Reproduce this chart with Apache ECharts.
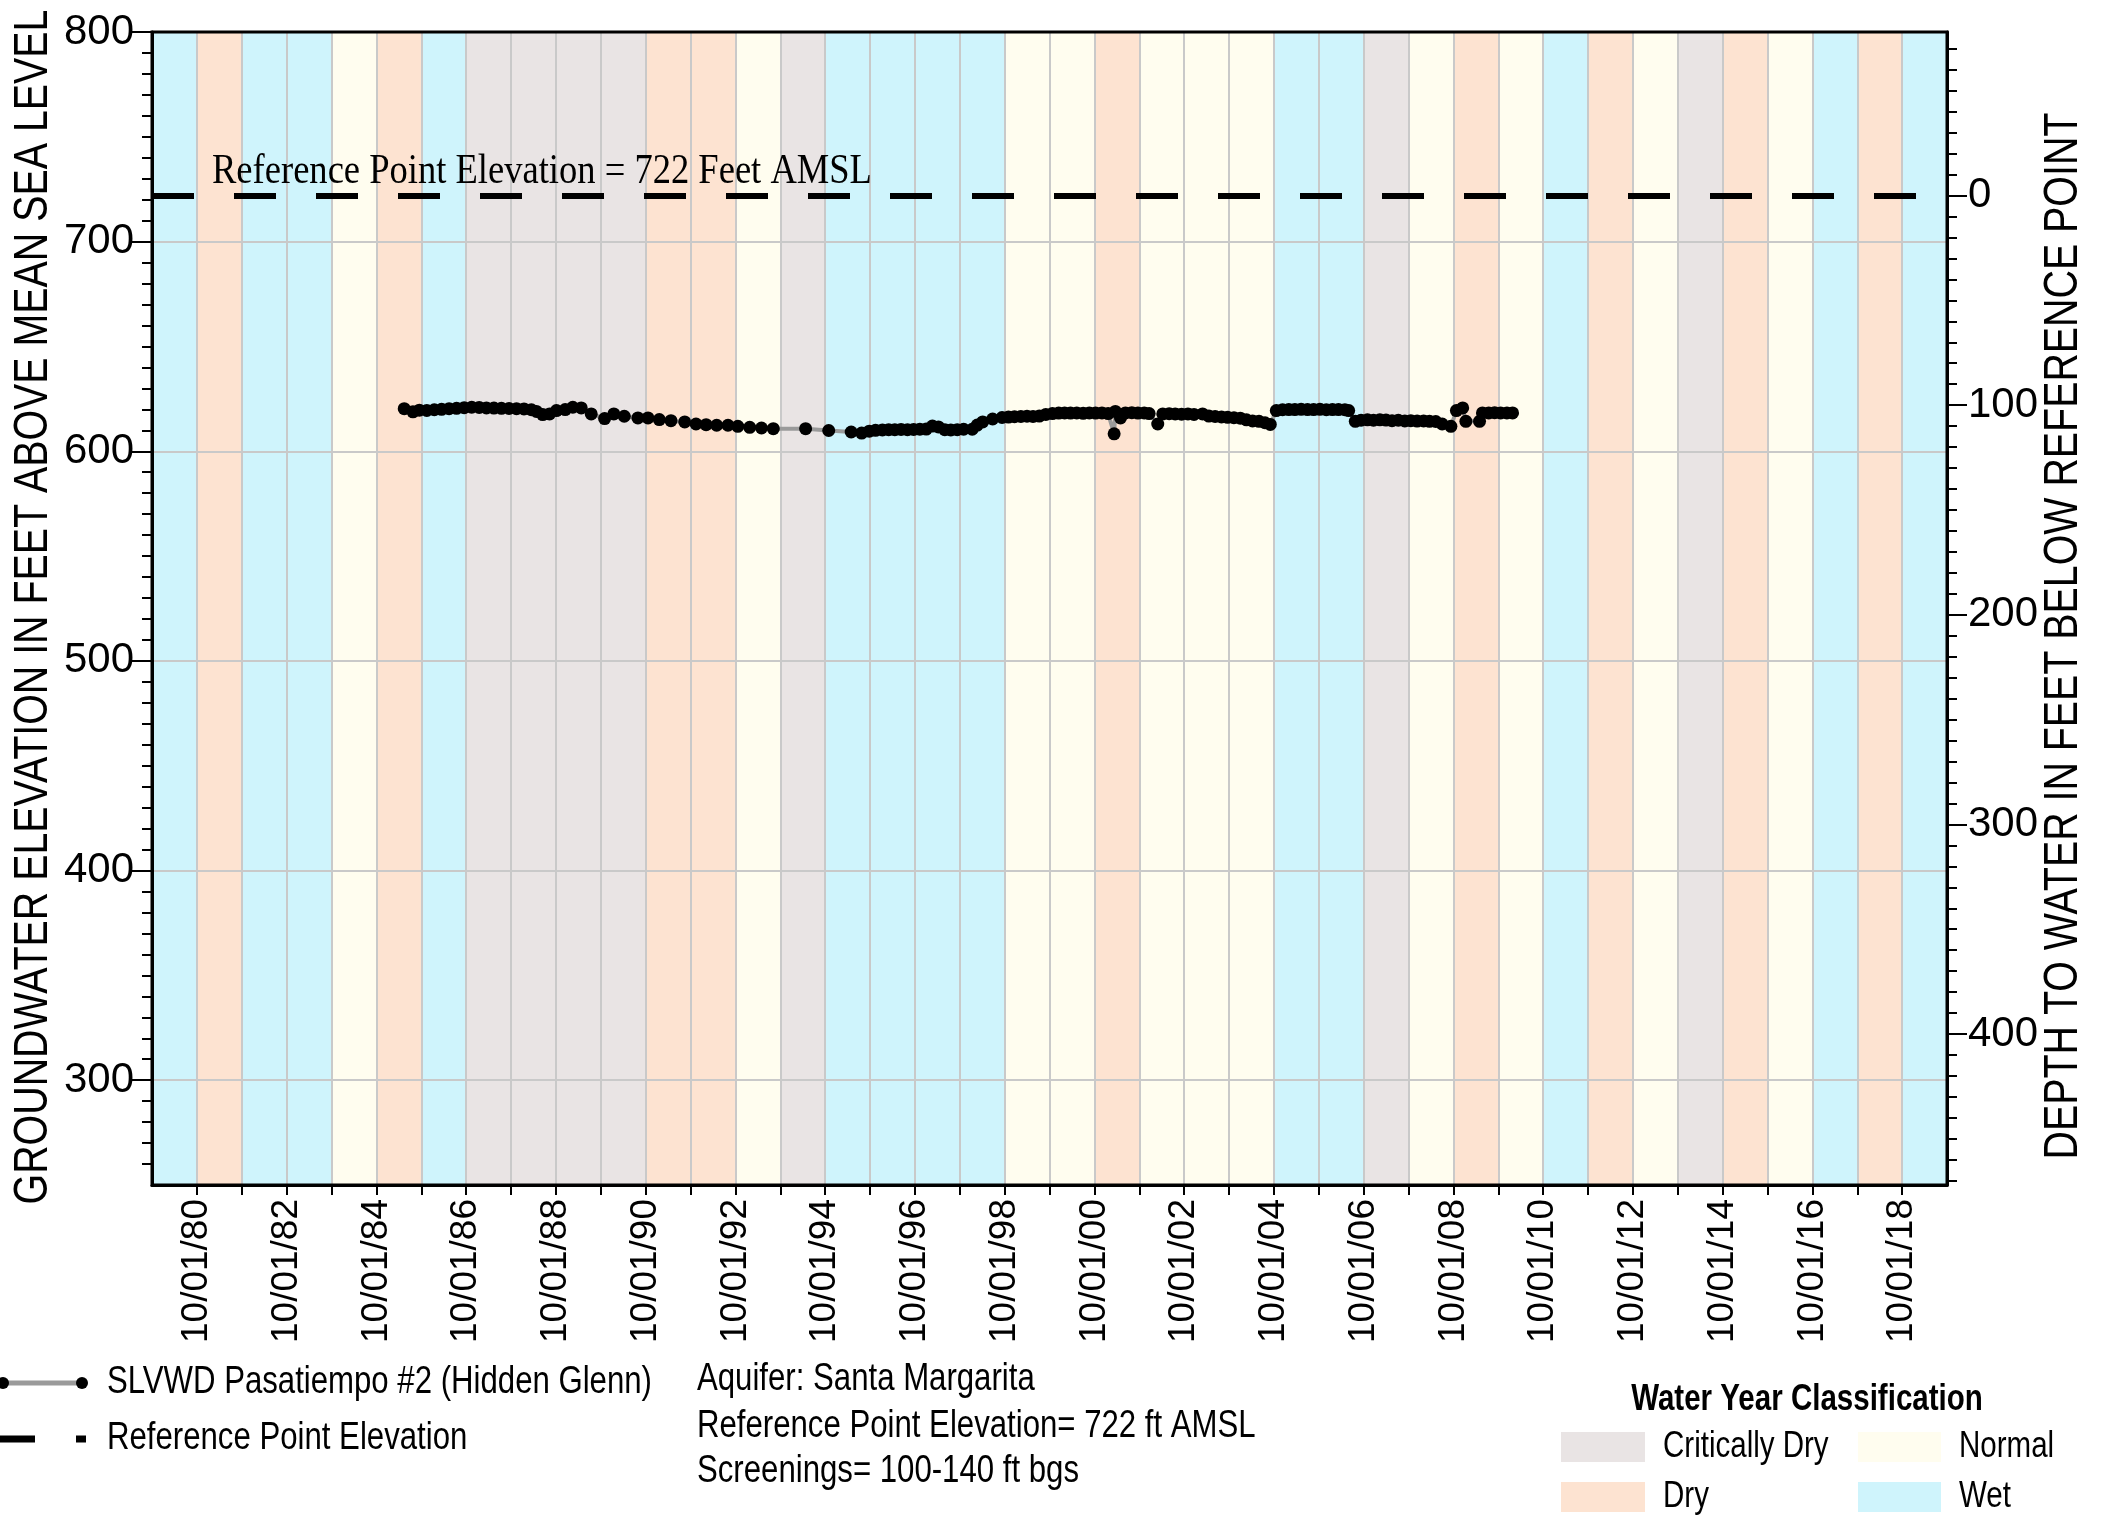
<!DOCTYPE html>
<html><head><meta charset="utf-8">
<script src="https://cdn.jsdelivr.net/npm/echarts@6/dist/echarts.min.js"></script>
<style>html,body{margin:0;padding:0;background:#fff}#c{width:2105px;height:1518px}</style>
</head><body><div id="c"></div>
<script>
// ---------------- data ----------------
const waterYears = [1980,1981,1982,1983,1984,1985,1986,1987,1988,1989,1990,1991,1992,1993,1994,1995,1996,1997,1998,1999,2000,2001,2002,2003,2004,2005,2006,2007,2008,2009,2010,2011,2012,2013,2014,2015,2016,2017,2018,2019];
const waterYearClass = ['Wet','Dry','Wet','Wet','Normal','Dry','Wet','Critically Dry','Critically Dry','Critically Dry','Critically Dry','Dry','Dry','Normal','Critically Dry','Wet','Wet','Wet','Wet','Normal','Normal','Dry','Normal','Normal','Normal','Wet','Wet','Critically Dry','Normal','Dry','Normal','Wet','Dry','Normal','Critically Dry','Dry','Normal','Wet','Dry','Wet'];
const classNames = ['Critically Dry','Dry','Normal','Wet'];
const tickYears = [1980,1981,1982,1983,1984,1985,1986,1987,1988,1989,1990,1991,1992,1993,1994,1995,1996,1997,1998,1999,2000,2001,2002,2003,2004,2005,2006,2007,2008,2009,2010,2011,2012,2013,2014,2015,2016,2017,2018];
const labelYears = [1980,1982,1984,1986,1988,1990,1992,1994,1996,1998,2000,2002,2004,2006,2008,2010,2012,2014,2016,2018];
const elevLabels = [300,400,500,600,700,800];
const depthLabels = [0,100,200,300,400];
const referenceElevation = 722;
const seriesName = 'SLVWD Pasatiempo #2 (Hidden Glenn)';

const obsDates = ['1985-05-15','1985-07-25','1985-09-15','1985-11-15','1986-01-15','1986-03-15','1986-05-15','1986-07-15','1986-09-15','1986-11-15','1987-01-15','1987-03-15','1987-05-15','1987-07-15','1987-09-15','1987-11-15','1988-01-15','1988-03-15','1988-04-25','1988-06-15','1988-08-10','1988-10-05','1988-12-15','1989-02-15','1989-04-25','1989-07-15','1989-11-01','1990-01-15','1990-04-10','1990-07-30','1990-10-20','1991-01-20','1991-04-25','1991-08-15','1991-11-15','1992-02-05','1992-05-01','1992-08-01','1992-10-20','1993-01-25','1993-05-01','1993-08-05','1994-04-25','1994-10-30','1995-05-01','1995-07-25','1995-09-25','1995-11-15','1996-01-10','1996-03-01','1996-04-20','1996-06-10','1996-08-01','1996-09-20','1996-11-10','1997-01-01','1997-02-20','1997-04-10','1997-06-01','1997-07-20','1997-09-10','1997-11-01','1998-01-10','1998-02-20','1998-04-05','1998-06-25','1998-09-10','1998-11-01','1998-12-20','1999-02-10','1999-04-01','1999-05-20','1999-07-10','1999-09-01','1999-10-25','1999-12-15','2000-02-01','2000-03-20','2000-05-10','2000-07-01','2000-08-20','2000-10-10','2000-12-01','2001-01-20','2001-03-10','2001-03-20','2001-05-01','2001-06-10','2001-08-01','2001-09-20','2001-11-10','2001-12-20','2002-02-28','2002-04-10','2002-06-01','2002-07-20','2002-09-10','2002-11-01','2002-12-20','2003-02-28','2003-04-20','2003-06-10','2003-08-01','2003-09-20','2003-11-10','2004-01-01','2004-02-20','2004-04-10','2004-06-01','2004-07-20','2004-09-01','2004-10-20','2004-12-10','2005-01-30','2005-03-20','2005-05-10','2005-07-01','2005-08-20','2005-10-10','2005-12-01','2006-01-20','2006-03-10','2006-05-01','2006-06-01','2006-07-25','2006-09-10','2006-11-01','2006-12-20','2007-02-10','2007-04-01','2007-05-20','2007-07-10','2007-09-01','2007-10-20','2007-12-10','2008-02-01','2008-03-20','2008-05-10','2008-07-01','2008-09-10','2008-10-25','2008-12-15','2009-01-10','2009-05-01','2009-05-25','2009-07-15','2009-09-01','2009-10-20','2009-12-10','2010-01-25'];
const obsElev = [620.3,618.8,619.6,619.5,619.8,620.0,620.3,620.5,620.8,621.0,620.9,620.7,620.6,620.5,620.4,620.3,620.2,619.8,619.0,617.5,617.8,619.4,619.9,621.0,620.7,617.8,615.6,617.8,616.7,615.9,615.9,615.1,614.6,614.0,613.0,612.7,612.4,612.4,611.9,611.4,611.1,610.8,610.8,609.9,609.2,608.7,609.6,610.0,610.2,610.3,610.3,610.4,610.3,610.4,610.5,610.6,612.0,611.6,610.3,610.2,610.3,610.5,610.5,612.5,614.0,615.4,616.1,616.3,616.5,616.6,616.7,616.6,616.8,617.6,618.0,618.2,618.3,618.2,618.3,618.1,618.3,618.2,618.3,618.0,608.3,619.0,615.9,618.3,618.4,618.2,618.3,618.0,613.0,617.8,617.9,617.8,617.7,617.8,617.6,617.8,616.8,616.6,616.4,616.2,616.0,615.8,615.0,614.5,614.3,613.6,612.8,619.4,619.8,619.9,619.9,620.0,619.9,619.9,620.0,619.8,619.9,619.9,619.8,619.4,614.3,614.8,615.0,614.8,615.0,614.9,614.6,614.8,614.5,614.6,614.4,614.5,614.3,614.2,613.0,611.9,619.4,620.7,614.3,614.3,618.3,618.3,618.4,618.3,618.3,618.3];

// ---------------- styling ----------------
const SANS = "'Liberation Sans',Arimo,Arial,sans-serif";
const SERIF = "'Liberation Serif','Times New Roman',serif";
const NARROW_SCALE = 0.82;
const classColors = {'Critically Dry':'#e9e4e4','Dry':'#fde3d1','Normal':'#fffdef','Wet':'#cff4fc'};
const oct1 = y => new Date(y, 9, 1).getTime();
const toTime = s => { const p = s.split('-').map(Number); return new Date(p[0], p[1] - 1, p[2]).getTime(); };

const bandData = waterYears.map((y, i) => [oct1(y - 1), oct1(y), classNames.indexOf(waterYearClass[i])]);
const obsData = obsDates.map((d, i) => [toTime(d), obsElev[i]]);
const minorLeft = [], minorRight = [];
for (let v = 260; v <= 800; v += 10) minorLeft.push(v);
for (let d = -70; d <= 470; d += 10) minorRight.push(referenceElevation - d);

// narrow text helper (condensed look of the original's Arial Narrow)
function ntext(x, y, text, size, opts) {
  opts = opts || {};
  const style = Object.assign({text: text, fontSize: size, fontFamily: SANS, fill: '#000', verticalAlign: 'middle', textVerticalAlign: 'middle'}, opts.style || {});
  const el = {type: 'text', x: x, y: y, scaleX: NARROW_SCALE, z: 10, style: style};
  if (opts.rotation !== undefined) el.rotation = opts.rotation;
  return el;
}

const chart = echarts.init(document.getElementById('c'), null, {renderer: 'canvas'});
const yBase = {type: 'value', min: 250, max: 800, scale: true};
chart.setOption({
  animation: false,
  backgroundColor: '#fff',
  grid: {left: 152, right: 158, top: 32, bottom: 333, show: true, z: 1, borderColor: '#000', borderWidth: 3, backgroundColor: 'transparent', containLabel: false, outerBoundsMode: 'none'},
  xAxis: {
    type: 'value', min: oct1(1979), max: oct1(2019), scale: true,
    axisLine: {show: true, lineStyle: {color: '#000', width: 3}},
    axisTick: {show: true, customValues: tickYears.map(oct1), length: 10, lineStyle: {color: '#000', width: 2}},
    axisLabel: {show: true, customValues: labelYears.map(oct1), rotate: 90, margin: 14, color: '#000', fontSize: 37, fontFamily: SANS,
      formatter: v => { const d = new Date(v); return '10/01/' + String(d.getFullYear() % 100).padStart(2, '0'); }},
    splitLine: {show: true, lineStyle: {color: '#c9c9c9', width: 2}}
  },
  yAxis: [
    Object.assign({}, yBase, {
      position: 'left',
      axisLine: {show: true, lineStyle: {color: '#000', width: 3}},
      axisTick: {show: true, customValues: elevLabels, length: 20, lineStyle: {color: '#000', width: 2}},
      axisLabel: {show: true, customValues: elevLabels, margin: 18, fontSize: 42, fontFamily: SANS, color: '#000'},
      splitLine: {show: true, lineStyle: {color: '#c9c9c9', width: 2}}
    }),
    Object.assign({}, yBase, {
      position: 'right',
      axisLine: {show: true, lineStyle: {color: '#000', width: 3}},
      axisTick: {show: true, customValues: depthLabels.map(d => referenceElevation - d), length: 20, lineStyle: {color: '#000', width: 2}},
      axisLabel: {show: true, customValues: depthLabels.map(d => referenceElevation - d), margin: 21, fontSize: 42, fontFamily: SANS, color: '#000',
        formatter: v => String(Math.round(referenceElevation - v))},
      splitLine: {show: false}
    }),
    Object.assign({}, yBase, {
      position: 'left',
      axisLine: {show: false},
      axisTick: {show: true, customValues: minorLeft, length: 10, lineStyle: {color: '#000', width: 2}},
      axisLabel: {show: false}, splitLine: {show: false}
    }),
    Object.assign({}, yBase, {
      position: 'right',
      axisLine: {show: false},
      axisTick: {show: true, customValues: minorRight, length: 10, lineStyle: {color: '#000', width: 2}},
      axisLabel: {show: false}, splitLine: {show: false}
    })
  ],
  series: [
    {
      name: 'Water Year Classification', type: 'custom', z: -1, silent: true,
      data: bandData,
      encode: {x: [0, 1], y: 2},
      clip: true,
      renderItem: (params, api) => {
        const x0 = api.coord([api.value(0), 500])[0];
        const x1 = api.coord([api.value(1), 500])[0];
        const cs = params.coordSys;
        return {type: 'rect', shape: {x: x0, y: cs.y, width: x1 - x0, height: cs.height},
          style: {fill: classColors[classNames[api.value(2)]]}};
      }
    },
    {
      name: seriesName, type: 'line', z: 4,
      data: obsData,
      symbol: 'circle', symbolSize: 13, showAllSymbol: true,
      itemStyle: {color: '#000'},
      lineStyle: {color: '#9a9a9a', width: 4},
      markLine: {
        silent: true, symbol: 'none', z: 3,
        label: {show: false},
        lineStyle: {type: [42, 40], width: 6, color: '#000', cap: 'butt'},
        data: [{yAxis: referenceElevation}]
      }
    }
  ],
  graphic: [
    // axis titles
    ntext(34, 607, 'GROUNDWATER ELEVATION IN FEET ABOVE MEAN SEA LEVEL', 48, {rotation: Math.PI / 2, style: {align: 'center', textAlign: 'center'}}),
    ntext(2064, 636, 'DEPTH TO WATER IN FEET BELOW REFERENCE POINT', 48, {rotation: Math.PI / 2, style: {align: 'center', textAlign: 'center'}}),
    // reference line annotation
    {type: 'text', x: 212, y: 172, scaleX: 0.87, z: 10,
      style: {text: 'Reference Point Elevation = ' + referenceElevation + ' Feet AMSL', fontSize: 42, fontFamily: SERIF, fill: '#000', verticalAlign: 'middle', textVerticalAlign: 'middle'}},
    // series legend
    {type: 'line', shape: {x1: 3, y1: 1383, x2: 82, y2: 1383}, style: {stroke: '#9a9a9a', lineWidth: 5}},
    {type: 'circle', shape: {cx: 3, cy: 1383, r: 6}, style: {fill: '#000'}},
    {type: 'circle', shape: {cx: 82, cy: 1383, r: 6}, style: {fill: '#000'}},
    ntext(107, 1383, seriesName, 38),
    {type: 'line', shape: {x1: 0, y1: 1439, x2: 35, y2: 1439}, style: {stroke: '#000', lineWidth: 7}},
    {type: 'line', shape: {x1: 76, y1: 1439, x2: 86, y2: 1439}, style: {stroke: '#000', lineWidth: 7}},
    ntext(107, 1439, 'Reference Point Elevation', 38),
    // info block
    ntext(697, 1380, 'Aquifer: Santa Margarita', 38),
    ntext(697, 1427, 'Reference Point Elevation= ' + referenceElevation + ' ft AMSL', 38),
    ntext(697, 1472, 'Screenings= 100-140 ft bgs', 38),
    // water year legend
    ntext(1807, 1400, 'Water Year Classification', 36, {style: {fontWeight: 'bold', align: 'center', textAlign: 'center'}}),
    {type: 'rect', shape: {x: 1561, y: 1432, width: 84, height: 30}, style: {fill: classColors['Critically Dry']}},
    ntext(1663, 1447, 'Critically Dry', 36),
    {type: 'rect', shape: {x: 1858, y: 1432, width: 83, height: 30}, style: {fill: classColors['Normal']}},
    ntext(1959, 1447, 'Normal', 36),
    {type: 'rect', shape: {x: 1561, y: 1482, width: 84, height: 30}, style: {fill: classColors['Dry']}},
    ntext(1663, 1497, 'Dry', 36),
    {type: 'rect', shape: {x: 1858, y: 1482, width: 83, height: 30}, style: {fill: classColors['Wet']}},
    ntext(1959, 1497, 'Wet', 36)
  ]
});
</script></body></html>
